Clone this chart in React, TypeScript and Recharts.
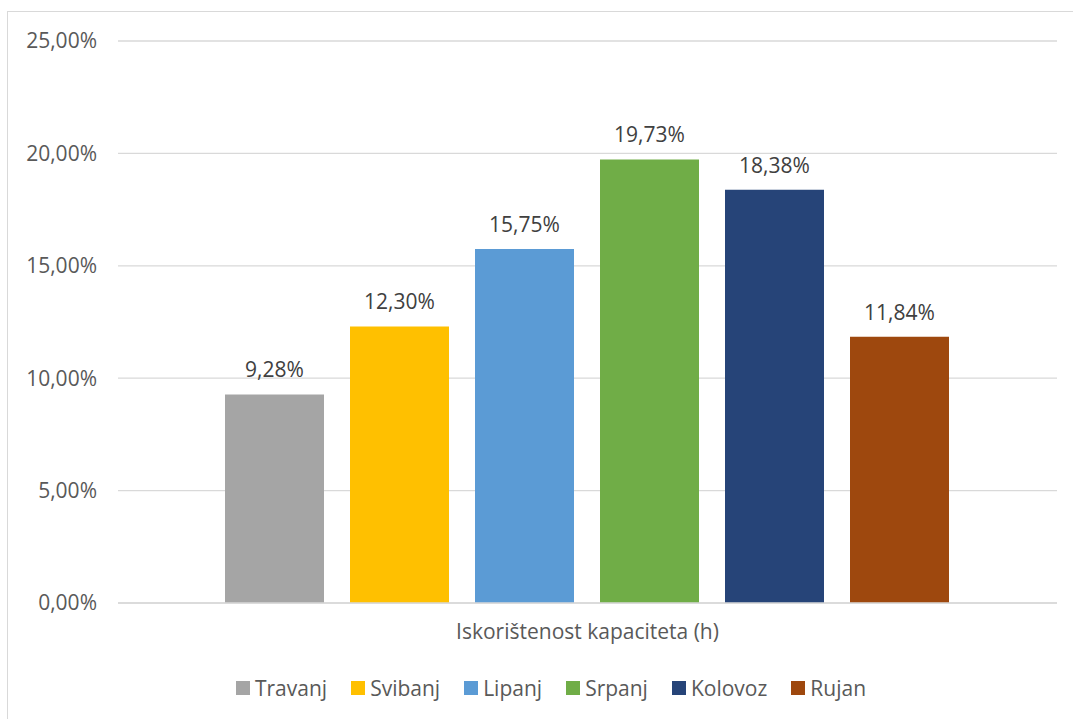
import React from 'react';
import { BarChart, Bar, XAxis, YAxis, CartesianGrid, LabelList } from 'recharts';

const category = 'Iskorištenost kapaciteta (h)';
const months = ['Travanj', 'Svibanj', 'Lipanj', 'Srpanj', 'Kolovoz', 'Rujan'];
const utilization = [9.28, 12.3, 15.75, 19.73, 18.38, 11.84];
const yTicks = [0, 5, 10, 15, 20, 25];

const colors = ['#A5A5A5', '#FFC000', '#5B9BD5', '#70AD47', '#264478', '#9E480E'];

const FONT = '"Open Sans", "Noto Sans", sans-serif';

// jedan redak, po jedan stupac za svaki mjesec
const chartData = [
  months.reduce<Record<string, any>>(
    (row, m, i) => {
      row[m] = utilization[i];
      return row;
    },
    { name: category }
  ),
];

const fmtPct = (v: any) => Number(v).toFixed(2).replace('.', ',') + '%';

export default function App() {
  return (
    <div
      style={{
        position: 'absolute',
        left: 0,
        top: 0,
        width: 1073,
        height: 719,
        overflow: 'hidden',
        background: '#fff',
        fontFamily: FONT,
      }}
    >
      <div
        style={{
          position: 'absolute',
          left: 7,
          top: 11,
          width: 1086,
          height: 720,
          border: '1px solid #D9D9D9',
        }}
      >
        <BarChart
          width={1086}
          height={707}
          data={chartData}
          margin={{ top: 29, right: 37, left: 0, bottom: 76 }}
          barCategoryGap={107}
          barGap={26}
        >
          <CartesianGrid vertical={false} stroke="#D9D9D9" strokeWidth={1.3} />
          <XAxis
            dataKey="name"
            height={40}
            tickLine={false}
            axisLine={{ stroke: '#D9D9D9', strokeWidth: 1.3 }}
            tickSize={0}
            tickMargin={21}
            tick={{ fill: '#595959', fontSize: 21, fontFamily: FONT }}
          />
          <YAxis
            width={110}
            domain={[0, 25]}
            ticks={yTicks}
            axisLine={false}
            tickLine={false}
            tickSize={0}
            tickMargin={21}
            tickFormatter={fmtPct}
            tick={{ fill: '#595959', fontSize: 21, fontFamily: FONT }}
          />
          {months.map((m, i) => (
            <Bar key={m} dataKey={m} fill={colors[i]} isAnimationActive={false}>
              <LabelList
                dataKey={m}
                position="top"
                offset={17}
                formatter={fmtPct}
                style={{ fill: '#404040', fontSize: 21, fontFamily: FONT }}
              />
            </Bar>
          ))}
        </BarChart>

        {/* legenda */}
        <div
          style={{
            position: 'absolute',
            left: 0,
            top: 662,
            width: 1086,
            display: 'flex',
            justifyContent: 'center',
            alignItems: 'center',
            fontSize: 21,
            color: '#595959',
          }}
        >
          {months.map((m, i) => (
            <div
              key={m}
              style={{ display: 'flex', alignItems: 'center', marginRight: i < months.length - 1 ? 24 : 0 }}
            >
              <span style={{ width: 14, height: 14, background: colors[i], marginRight: 5, display: 'inline-block' }} />
              <span>{m}</span>
            </div>
          ))}
        </div>
      </div>
    </div>
  );
}
